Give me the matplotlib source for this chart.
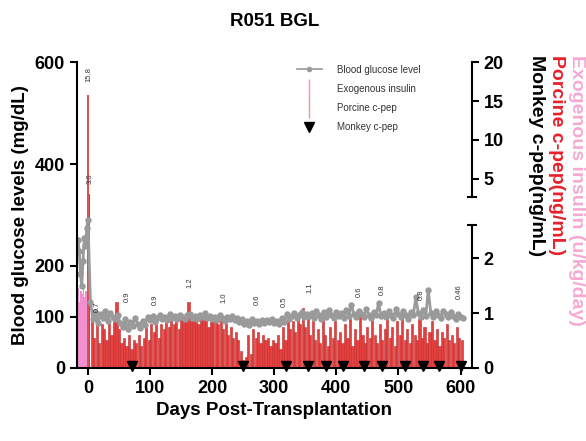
import numpy as np
import matplotlib
matplotlib.use("Agg")
import matplotlib.pyplot as plt
from matplotlib.lines import Line2D

plt.rcParams['font.family'] = ['Liberation Sans', 'DejaVu Sans']

# ---- data ----
bgl_pre_days = np.arange(-16, 1, 2)
bgl_pre = [250, 230, 185, 160, 210, 255, 240, 275, 290]
bgl_days = np.arange(4, 605, 4)
bgl = [130, 95, 110, 88, 105, 98, 112, 92, 108, 100,
       96, 104, 88, 80, 95, 76, 90, 82, 98, 86,
       78, 92, 84, 100, 94, 102, 90, 98, 104, 96,
       100, 94, 106, 98, 102, 96, 104, 100, 95, 103,
       106, 98, 101, 95, 104, 99, 107, 97, 102, 96,
       100, 94, 103, 97, 92, 99, 95, 101, 93, 98,
       90, 96, 86, 92, 84, 95, 88, 91, 85, 93,
       87, 94, 89, 96, 88, 92, 86, 98, 90, 106,
       95, 102, 108, 97, 104, 110, 99, 106, 101, 108,
       98, 112, 103, 96, 109, 100, 114, 104, 98, 110,
       102, 107, 97, 113, 101, 124, 106, 99, 112, 105,
       100, 116, 104, 98, 110, 103, 127, 101, 108, 99,
       111, 104, 98, 115, 106, 100, 112, 103, 96, 109,
       104, 139, 107, 99, 113, 102, 153, 108, 100, 111,
       103, 97, 112, 105, 99, 110, 101, 95, 106, 100,
       98]

insulin_days = np.arange(-17, -2, 2)
insulin = [1.3, 1.45, 1.2, 1.4, 1.35, 1.45, 1.3, 1.4]

peak_days = [0, 1]
peak_cpep = [15.8, 3.0]

cpep_days = np.arange(6, 603, 4)
cpep = [0.9, 0.55, 0.85, 0.45, 0.8, 0.7, 0.5, 0.88, 0.6, 0.9,
        1.2, 0.7, 0.45, 0.55, 0.4, 0.6, 0.35, 0.5, 0.45, 0.6,
        0.4, 0.55, 0.75, 0.5, 0.8, 0.65, 0.9, 0.55, 0.8, 0.7,
        0.88, 0.75, 0.95, 0.8, 0.9, 0.7, 0.92, 0.85, 0.95, 1.2,
        0.9, 0.85, 0.95, 0.8, 0.92, 0.88, 0.95, 0.75, 0.9, 0.85,
        0.95, 0.8, 0.9, 0.7, 0.85, 0.6, 0.75, 0.55, 0.65, 0.5,
        0.3, 0.15, 0.2, 0.6, 0.25, 0.7, 0.55, 0.65, 0.45, 0.6,
        0.5, 0.55, 0.4, 0.5, 0.45, 0.6, 0.35, 0.75, 0.5, 0.9,
        0.7, 0.85, 0.65, 0.95, 0.8, 1.1, 0.75, 0.9, 0.6, 0.85,
        0.5, 0.7, 0.45, 0.9, 0.6, 0.4, 0.75, 0.55, 0.85, 0.5,
        0.65, 0.45, 0.8, 0.55, 0.9, 0.4, 0.7, 0.5, 0.95, 0.6,
        0.45, 0.75, 0.55, 1.0, 0.6, 0.45, 0.8, 0.5, 0.7, 0.95,
        0.55, 0.75, 0.4, 0.85, 0.6, 1.05, 0.5, 0.7, 0.45, 0.8,
        0.6, 0.5, 0.9, 0.55, 0.75, 0.45, 0.65, 0.85, 0.5, 0.7,
        0.4, 0.65, 0.55, 0.8, 0.5, 0.6, 0.45, 0.75, 0.55, 0.5]

monkey_days = [71, 250, 319, 355, 384, 411, 445, 474, 510, 539, 566, 600]

ann_text = ["15.8", "3.0", "0.7", "0.9", "0.9", "1.2", "1.0", "0.6",
            "0.5", "1.1", "0.6", "0.8", "0.8", "0.46"]
ann_days = [2, 4, 15, 63, 108, 165, 219, 272, 316, 358, 437, 474, 537, 598]
# label heights in BGL units (layout only)
ann_y = [575, 372, 120, 139, 133, 167, 137, 133, 129, 157, 149, 153, 143, 149]


# broken right axis: 0-2.6 linear at the bottom, 2.6-20 compressed on top
def fwd(v):
    v = np.asarray(v, dtype=float)
    return np.where(v <= 2.6, 55 * v, 190 + 7.8 * (v - 5))


def inv(h):
    h = np.asarray(h, dtype=float)
    return np.where(h <= 143, h / 55,
                    np.where(h >= 171.3, 5 + (h - 190) / 7.8, 2.6))


fig = plt.figure(figsize=(5.86, 4.41), dpi=100)
ax = fig.add_axes([0.131, 0.166, 0.674, 0.693])
ax2 = ax.twinx()

ax2.set_yscale('function', functions=(fwd, inv))
ax2.bar(insulin_days, insulin, width=2, color='#f28fd0', zorder=1)
ax2.bar(cpep_days, cpep, width=3.5, color='#e4403f', edgecolor='#c42a2a',
        linewidth=0.4, zorder=2)
ax2.bar(peak_days[1], peak_cpep[1], width=3.5, color='#e03838', zorder=2)
ax2.bar(peak_days[0], peak_cpep[0], width=2.2, color='#e05050', zorder=2)
ax2.plot(monkey_days, np.full(len(monkey_days), 0.04), 'v', color='black',
         markersize=7, clip_on=False, zorder=5)
ax2.set_ylim(0, 20)
ax2.set_yticks([0, 1, 2, 5, 10, 15, 20])
ax2.set_yticklabels(['0', '1', '2', '5', '10', '15', '20'])
ax2.set_yticks([2.6, 2.65], minor=True)
ax2.tick_params(axis='y', which='minor', direction='inout', length=7, width=1.5)
ax2.spines['right'].set_bounds(0, 2.6)
ax2.plot([1, 1], [2.65, 20], transform=ax2.get_yaxis_transform(),
         color='black', linewidth=1.5, clip_on=False)
for s in ['top', 'left', 'bottom']:
    ax2.spines[s].set_visible(False)
ax2.spines['right'].set_linewidth(1.5)

ax.set_zorder(ax2.get_zorder() + 1)
ax.patch.set_visible(False)
ax.plot(np.concatenate([bgl_pre_days, bgl_days]), bgl_pre + bgl,
        '-o', color='#9a9a9a', markersize=3.6, linewidth=2.0)
for t, d, y in zip(ann_text, ann_days, ann_y):
    ax.text(d, y, t, rotation=90, fontsize=5.5, ha='center', va='center',
            color='#333333')

ax.set_xlim(-18, 618)
ax.set_ylim(0, 600)
ax.set_xticks(range(0, 601, 100))
ax.set_yticks([0, 100, 200, 400, 600])
ax.spines['top'].set_visible(False)
ax.spines['right'].set_visible(False)
for s in ['left', 'bottom']:
    ax.spines[s].set_linewidth(1.5)

for a in (ax, ax2):
    a.tick_params(width=1.5, length=5, labelsize=13)
    for lab in a.get_xticklabels() + a.get_yticklabels():
        lab.set_fontweight('bold')

ax.set_xlabel('Days Post-Transplantation', fontsize=13.5, fontweight='bold')
ax.set_ylabel('Blood glucose levels (mg/dL)', fontsize=13.5, fontweight='bold',
              labelpad=4)
ax.set_title('R051 BGL', fontsize=13.5, fontweight='bold', pad=26)

fig.text(537 / 586, 1 - 55 / 441, 'Monkey c-pep(ng/mL)', rotation=270,
         ha='center', va='top', fontsize=14, fontweight='bold', color='black')
fig.text(556 / 586, 1 - 55 / 441, 'Porcine c-pep(ng/mL)', rotation=270,
         ha='center', va='top', fontsize=14, fontweight='bold', color='#e8202a')
fig.text(576 / 586, 1 - 55 / 441, 'Exogenous insulin (u/kg/day)', rotation=270,
         ha='center', va='top', fontsize=14, fontweight='bold', color='#f4aad2')

handles = [
    Line2D([], [], color='#9a9a9a', marker='o', markersize=3, linewidth=1.2),
    Line2D([], [], color='#f28fd0', marker='|', markersize=14, linestyle='none'),
    Line2D([], [], color='#d9a38f', marker='|', markersize=14, linestyle='none'),
    Line2D([], [], color='black', marker='v', markersize=7, linestyle='none'),
]
labels = ['Blood glucose level', 'Exogenous insulin', 'Porcine c-pep', 'Monkey c-pep']
leg = ax.legend(handles, labels, loc='upper left',
                bbox_to_anchor=(288 / 586, 1 - 56 / 441),
                bbox_transform=fig.transFigure, frameon=False, fontsize=7,
                labelspacing=0.95, handlelength=2.6, handletextpad=1.5)
for txt in leg.get_texts():
    txt.set_color('#333333')

fig.savefig('out.png', dpi=100)
